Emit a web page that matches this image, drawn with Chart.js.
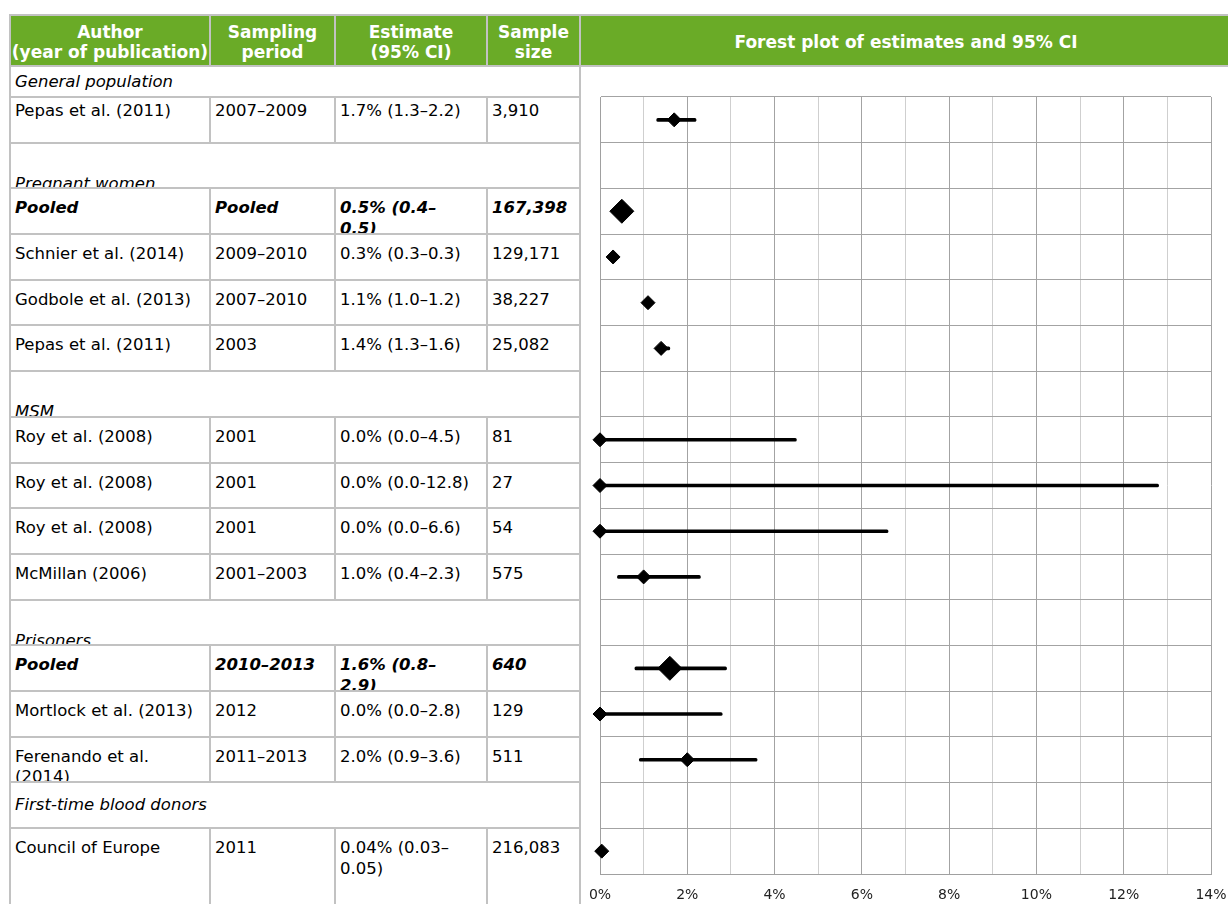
<!DOCTYPE html>
<html>
<head>
<meta charset="utf-8">
<script src="https://cdn.jsdelivr.net/npm/chart.js@4/dist/chart.umd.min.js"></script>
<style>
  body { margin: 0; background: #fff; font-family: "DejaVu Sans", Verdana, sans-serif; }
  #page { position: relative; width: 1228px; height: 904px; overflow: hidden; }
  .cell {
    position: absolute; box-sizing: border-box; border: 2px solid #c2c2c2;
    overflow: hidden; white-space: pre; color: #000;
    font-size: 16.5px; line-height: 20.5px; padding: 7px 4px 0 4px; background: #fff;
  }
  .head {
    background: #6aab27; color: #fff; font-weight: bold; font-size: 17px; line-height: 20px;
    display: flex; align-items: center; justify-content: center; text-align: center;
    padding: 3px 0 0 0;
  }
  .group { font-style: italic; }
  .pooled { font-style: italic; font-weight: bold; }
  #chart { position: absolute; left: 582px; top: 67px; }
</style>
</head>
<body>
<div id="page">
  <canvas id="chart" width="646" height="837"></canvas>
</div>
<script>
// table + chart data
const topGroup = 'General population';
const authors = ['Pepas et al. (2011)', 'Pregnant women', 'Pooled', 'Schnier et al. (2014)', 'Godbole et al. (2013)',
  'Pepas et al. (2011)', 'MSM', 'Roy et al. (2008)', 'Roy et al. (2008)', 'Roy et al. (2008)', 'McMillan (2006)',
  'Prisoners', 'Pooled', 'Mortlock et al. (2013)', 'Ferenando et al.\n(2014)', 'First-time blood donors', 'Council of Europe'];
const isGroup = [0, 1, 0, 0, 0, 0, 1, 0, 0, 0, 0, 1, 0, 0, 0, 1, 0];
const isPooled = [0, 0, 1, 0, 0, 0, 0, 0, 0, 0, 0, 0, 1, 0, 0, 0, 0];
const periods = ['2007–2009', '', 'Pooled', '2009–2010', '2007–2010', '2003', '', '2001', '2001', '2001',
  '2001–2003', '', '2010–2013', '2012', '2011–2013', '', '2011'];
const estimateLabels = ['1.7% (1.3–2.2)', '', '0.5% (0.4–\n0.5)', '0.3% (0.3–0.3)', '1.1% (1.0–1.2)', '1.4% (1.3–1.6)', '',
  '0.0% (0.0–4.5)', '0.0% (0.0-12.8)', '0.0% (0.0–6.6)', '1.0% (0.4–2.3)', '', '1.6% (0.8–\n2.9)', '0.0% (0.0–2.8)',
  '2.0% (0.9–3.6)', '', '0.04% (0.03–\n0.05)'];
const sampleSizes = ['3,910', '', '167,398', '129,171', '38,227', '25,082', '', '81', '27', '54', '575', '',
  '640', '129', '511', '', '216,083'];
const estimates = [1.7, null, 0.5, 0.3, 1.1, 1.4, null, 0.0, 0.0, 0.0, 1.0, null, 1.6, 0.0, 2.0, null, 0.04];
const lowerCI = [1.3, null, 0.4, 0.3, 1.0, 1.3, null, 0.0, 0.0, 0.0, 0.4, null, 0.8, 0.0, 0.9, null, 0.03];
const upperCI = [2.2, null, 0.5, 0.3, 1.2, 1.6, null, 4.5, 12.8, 6.6, 2.3, null, 2.9, 2.8, 3.6, null, 0.05];
const headers = ['Author\n(year of publication)', 'Sampling\nperiod', 'Estimate\n(95% CI)', 'Sample\nsize'];
const plotTitle = 'Forest plot of estimates and 95% CI';
const xTickLabels = ['0%', '2%', '4%', '6%', '8%', '10%', '12%', '14%'];

// layout
const page = document.getElementById('page');
const cols = [10, 210, 335, 487, 580];
const headTop = 15, headBot = 66, firstTop = 97, rowH = 45.69;

function cell(x0, x1, y0, y1, text, cls, padTop) {
  const d = document.createElement('div');
  d.className = 'cell ' + (cls || '');
  d.style.left = (x0 - 1) + 'px';
  d.style.top = (y0 - 1) + 'px';
  d.style.width = (x1 - x0 + 2) + 'px';
  d.style.height = (y1 - y0 + 2) + 'px';
  if (padTop != null) d.style.paddingTop = padTop + 'px';
  d.textContent = text;
  page.insertBefore(d, page.firstChild);
  return d;
}

headers.forEach((h, c) => cell(cols[c], cols[c + 1], headTop, headBot, h, 'head'));
cell(580, 1232, headTop, headBot, plotTitle, 'head');
cell(580, 1232, headBot, 910, '', '');
cell(cols[0], cols[4], headBot, firstTop, topGroup, 'group', 5);

authors.forEach((a, i) => {
  const y0 = firstTop + i * rowH;
  const y1 = i === authors.length - 1 ? 960 : y0 + rowH;
  if (isGroup[i]) {
    cell(cols[0], cols[4], y0, y1, a, 'group', i === 15 ? 12 : 30);
    return;
  }
  const pad = i === 0 ? 3 : 9;
  const cls = isPooled[i] ? 'pooled' : '';
  [a, periods[i], estimateLabels[i], sampleSizes[i]].forEach((t, c) => {
    cell(cols[c], cols[c + 1], y0, y1, t, cls, pad);
  });
});

// forest plot
const ciBars = lowerCI.map((lo, i) => lo === null ? null : [lo, upperCI[i]]);
new Chart(document.getElementById('chart'), {
  type: 'bar',
  data: {
    labels: authors,
    datasets: [{
      type: 'line',
      data: estimates,
      showLine: false,
      pointStyle: 'rectRot',
      pointRadius: isPooled.map(p => p ? 12 : 7),
      pointBackgroundColor: '#000',
      pointBorderColor: '#000',
      pointBorderWidth: 1,
      clip: false,
      order: 0
    }, {
      data: ciBars,
      backgroundColor: '#000',
      barThickness: 3,
      borderRadius: 1.5,
      borderSkipped: false,
      order: 1
    }]
  },
  options: {
    indexAxis: 'y',
    responsive: false,
    animation: false,
    events: [],
    layout: { padding: { top: 30, right: 17, left: 0, bottom: 0 } },
    plugins: { legend: { display: false }, tooltip: { enabled: false } },
    scales: {
      x: {
        type: 'linear', min: 0, max: 14,
        afterFit: s => { s.height = 30; s.paddingLeft = 0; s.paddingRight = 0; },
        border: { color: '#a0a0a0' },
        grid: {
          drawTicks: false,
          color: c => (c.tick && c.tick.value % 2 === 0) ? '#a3a3a3' : '#cfcfcf'
        },
        ticks: {
          stepSize: 1, autoSkip: false, maxRotation: 0, padding: 13,
          color: '#222', font: { family: 'DejaVu Sans', size: 14 },
          callback: v => v % 2 === 0 ? xTickLabels[v / 2] : ''
        }
      },
      y: {
        type: 'category', offset: true,
        afterFit: s => { s.width = 18; },
        border: { color: '#a0a0a0' },
        grid: { offset: true, drawTicks: false, color: '#a3a3a3' },
        ticks: { display: false }
      }
    }
  }
});
</script>
</body>
</html>
